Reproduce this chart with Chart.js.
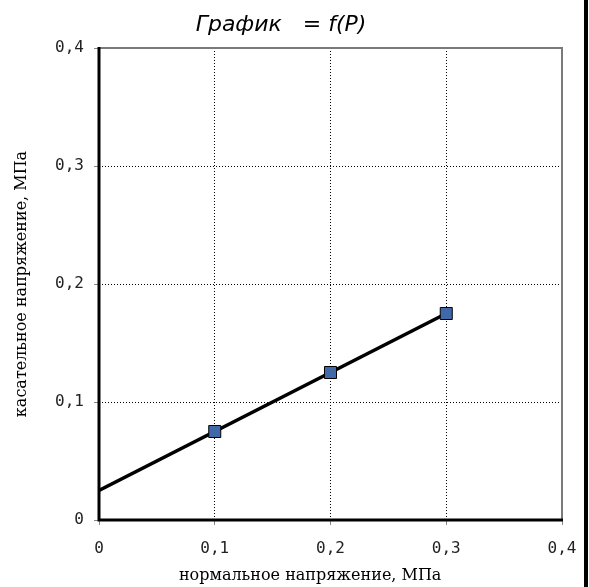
<!DOCTYPE html>
<html>
<head>
<meta charset="utf-8">
<script src="https://cdn.jsdelivr.net/npm/chart.js@4"></script>
<style>
  html, body { margin: 0; padding: 0; background: #fff; }
  #wrap { width: 589px; height: 587px; }
</style>
</head>
<body>
<div id="wrap"><canvas id="myChart" width="589" height="587"></canvas></div>
<script>
// measured points
var pointsX = [0.1, 0.2, 0.3];
var pointsY = [0.075, 0.125, 0.175];
// trend line ends
var trendX = [0, 0.3];
var trendY = [0.025, 0.175];
var xTicks = [0, 0.1, 0.2, 0.3, 0.4];
var yTicks = [0, 0.1, 0.2, 0.3, 0.4];

var ctx = document.getElementById("myChart");

function fmt(v) {
    if (Math.abs(v) < 1e-9) return "0";
    return v.toFixed(1).replace(".", ",");
}

// plot frame + the black bar on the right
var frame = {
    id: "frame",
    beforeDatasetsDraw: function (chart) {
        var a = chart.chartArea;
        var c = chart.ctx;
        c.save();
        c.strokeStyle = "#7a7a7a";
        c.lineWidth = 2;
        c.beginPath();
        c.moveTo(a.left, a.top);
        c.lineTo(a.right, a.top);
        c.lineTo(a.right, a.bottom);
        c.stroke();
        c.strokeStyle = "#000";
        c.lineWidth = 3;
        c.beginPath();
        c.moveTo(a.left, a.top - 1);
        c.lineTo(a.left, a.bottom);
        c.lineTo(a.right + 1, a.bottom);
        c.stroke();
        c.fillStyle = "#000";
        c.fillRect(chart.width - 5, 0, 4, chart.height);
        c.restore();
    }
};

var myChart = new Chart(ctx, {
    type: "scatter",
    data: {
        datasets: [
            {
                label: "trend",
                data: trendX.map(function (x, i) { return { x: x, y: trendY[i] }; }),
                showLine: true,
                borderColor: "#000",
                borderWidth: 3.5,
                pointRadius: 0,
                fill: false,
                order: 2
            },
            {
                label: "points",
                data: pointsX.map(function (x, i) { return { x: x, y: pointsY[i] }; }),
                showLine: false,
                pointStyle: "rect",
                pointRadius: 8.5,
                pointBackgroundColor: "#4169aa",
                pointBorderColor: "#000",
                pointBorderWidth: 1,
                order: 1
            }
        ]
    },
    plugins: [frame],
    options: {
        responsive: false,
        animation: false,
        layout: { padding: { left: 0, right: 27, top: 0, bottom: 0 } },
        plugins: {
            legend: { display: false },
            tooltip: { enabled: false },
            title: {
                display: true,
                text: "График   = f(P)",
                color: "#000",
                font: { family: "DejaVu Sans", size: 22, style: "italic", weight: "normal" },
                padding: { top: 12, bottom: 9.6 }
            }
        },
        scales: {
            x: {
                type: "linear",
                min: 0,
                max: 0.4,
                afterFit: function (s) { s.height = 67; },
                afterBuildTicks: function (s) { s.ticks = xTicks.map(function (v) { return { value: v }; }); },
                ticks: {
                    callback: fmt,
                    color: "#222",
                    padding: 11,
                    maxRotation: 0,
                    font: { family: "DejaVu Sans Mono", size: 16, lineHeight: 1.6 }
                },
                grid: { color: "#000", lineWidth: 1, tickLength: 5, tickColor: "#888" },
                border: { display: false, dash: [1, 2] },
                title: {
                    display: true,
                    text: "нормальное напряжение, МПа\u00a0\u00a0\u00a0\u00a0\u00a0\u00a0\u00a0\u00a0",
                    color: "#000",
                    font: { family: "DejaVu Serif", size: 16 },
                    padding: { top: 0, bottom: 2 }
                }
            },
            y: {
                type: "linear",
                min: 0,
                max: 0.4,
                afterFit: function (s) { s.width = 99; },
                afterBuildTicks: function (s) { s.ticks = yTicks.map(function (v) { return { value: v }; }); },
                ticks: {
                    callback: fmt,
                    color: "#222",
                    padding: 10,
                    font: { family: "DejaVu Sans Mono", size: 16 }
                },
                grid: { color: "#000", lineWidth: 1, tickLength: 5, tickColor: "#888" },
                border: { display: false, dash: [1, 2] },
                title: {
                    display: true,
                    text: "касательное напряжение, МПа",
                    color: "#000",
                    font: { family: "DejaVu Serif", size: 16 },
                    padding: { top: 12, bottom: 0 }
                }
            }
        }
    }
});
</script>
</body>
</html>
